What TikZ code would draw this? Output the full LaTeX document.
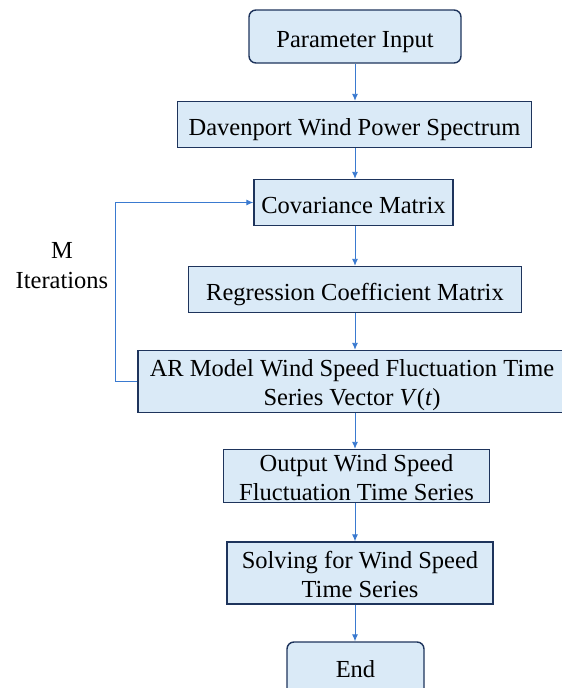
\documentclass[tikz,border=0pt]{standalone}
\usepackage{fontspec}
\setmainfont{Liberation Serif}
\usetikzlibrary{arrows.meta}
\definecolor{boxfill}{RGB}{218,234,247}
\definecolor{boxdraw}{RGB}{30,52,92}
\definecolor{arr}{RGB}{58,122,208}
\begin{document}
\begin{tikzpicture}[x=1pt,y=-1pt,
  box/.style={draw=boxdraw,fill=boxfill,line width=1.4pt,align=center,inner sep=0pt,
    font=\fontsize{24.5}{29}\selectfont,text height=21pt,text depth=0pt},
  rbox/.style={box,rounded corners=7pt},
  two/.style={text height=#1,text depth=0pt},
  conn/.style={draw=arr,line width=0.9pt,-{Latex[length=7pt,width=6pt]}},
  lbl/.style={align=center,font=\fontsize{24.5}{30}\selectfont}]
\useasboundingbox (0,0) rectangle (562,688);
\node[rbox,minimum width=212pt,minimum height=53pt] (p) at (355,36.5) {Parameter Input};
\node[box,minimum width=354pt,minimum height=46pt] (d) at (354.5,124.5) {Davenport Wind Power Spectrum};
\node[box,minimum width=199pt,minimum height=46pt] (c) at (353.5,202.5) {Covariance Matrix};
\node[box,minimum width=333pt,minimum height=46pt] (r) at (355,289.5) {Regression Coefficient Matrix};
\node[box,two=47pt,minimum width=428pt,minimum height=62pt] (a) at (352,381.5) {AR Model Wind Speed Fluctuation Time\\Series Vector \textit{V}(\textit{t})};
\node[box,two=48pt,minimum width=266pt,minimum height=53pt] (o) at (356.5,476) {Output Wind Speed\\Fluctuation Time Series};
\node[box,two=48pt,minimum width=266pt,minimum height=62pt] (s) at (360,573) {Solving for Wind Speed\\Time Series};
\node[rbox,two=8pt,minimum width=137pt,minimum height=62pt] (e) at (355.5,673) {End};
\node[lbl] (m) at (62,266) {M\\Iterations};
\coordinate (x1) at (355,0);
\draw[conn] (p.south -| x1) -- (d.north -| x1);
\draw[conn] (d.south -| x1) -- (c.north -| x1);
\draw[conn] (c.south -| x1) -- (r.north -| x1);
\draw[conn] (r.south -| x1) -- (a.north -| x1);
\draw[conn] (a.south -| x1) -- (o.north -| x1);
\draw[conn] (o.south -| x1) -- (s.north -| x1);
\draw[conn] (s.south -| x1) -- (e.north -| x1);
\coordinate (lx) at (115,0);
\draw[conn] (a.west) -- (a.west -| lx) -- (c.west -| lx) -- (c.west);
\end{tikzpicture}
\end{document}
